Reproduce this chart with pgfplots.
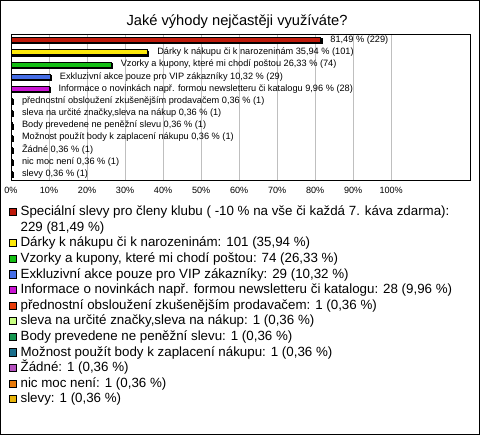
\documentclass[border=0pt]{standalone}
\usepackage{fontspec}
\setmainfont{Liberation Sans}
\usepackage{pgfplots}
\pgfplotsset{compat=1.18}
\definecolor{c1}{RGB}{190,25,10}
\definecolor{c2}{RGB}{252,232,10}
\definecolor{c3}{RGB}{20,190,20}
\definecolor{c4}{RGB}{70,110,230}
\definecolor{c5}{RGB}{200,20,210}
\definecolor{c6}{RGB}{232,62,12}
\definecolor{c7}{RGB}{200,255,130}
\definecolor{c8}{RGB}{20,150,80}
\definecolor{c9}{RGB}{25,110,140}
\definecolor{c10}{RGB}{180,80,190}
\definecolor{c11}{RGB}{232,122,10}
\definecolor{c12}{RGB}{232,180,10}
\begin{document}
\begin{tikzpicture}
\path[use as bounding box] (0,0) rectangle (360pt,-326.25pt);
\draw[line width=0.75pt] (0.375pt,-0.375pt) rectangle (359.625pt,-325.875pt);
\node[font=\fontsize{11}{13}\selectfont, anchor=base] at (177.75pt,-19.5pt) {Jaké výhody nejčastěji využíváte?};
\begin{axis}[
  at={(8.25pt,-25.5pt)}, anchor=north west,
  scale only axis, width=345pt, height=109.5pt,
  xmin=0, xmax=121, ymin=0.5, ymax=12.5, y dir=reverse,
  xtick={0,10,...,100},
  xticklabels={0\%,10\%,20\%,30\%,40\%,50\%,60\%,70\%,80\%,90\%,100\%},
  ytick=\empty,
  xmajorgrids, grid style={black!25, line width=0.6pt},
  major tick length=0pt,
  axis line style={line width=0.75pt},
  xticklabel style={font=\fontsize{6.8}{8}\selectfont, inner sep=0pt, yshift=-5pt},
  bar width=3.75pt,
  every node near coord/.append style={anchor=west, inner sep=0pt, xshift=7pt, font=\fontsize{6.9}{8}\selectfont, text=black},
  myleg/.style={legend image code/.code={\draw[##1, draw=black, line width=0.5pt] (0pt,-2.7pt) rectangle (5.4pt,2.7pt);}},
  legend style={at={(-0.0043,-0.164)}, anchor=north west, draw=none, fill=none, inner sep=0pt, row sep=0pt, column sep=0pt,
    font=\fontsize{10}{12}\selectfont,
    nodes={inner xsep=2.6pt, inner ysep=0.95pt, text height=7.6pt, text depth=2.2pt}},
  legend cell align=left,
]
% shadows
\addplot[xbar, bar shift=0pt, fill=black, draw=black, forget plot, transform canvas={xshift=0.8pt, yshift=-0.8pt}]
 coordinates {(81.49,1) (35.94,2) (26.33,3) (10.32,4) (9.96,5) (0.36,6) (0.36,7) (0.36,8) (0.36,9) (0.36,10) (0.36,11) (0.36,12)};
\addplot[xbar, myleg, bar shift=0pt, fill=c1, draw=black, line width=0.5pt, nodes near coords={81,49 \% (229)}] coordinates {(81.49,1)};
\addlegendentry{Speciální slevy pro členy klubu ( -10 \% na vše či každá 7. káva zdarma):}
\addlegendimage{empty legend}
\addlegendentry{229 (81,49 \%)}
\addplot[xbar, myleg, bar shift=0pt, fill=c2, draw=black, line width=0.5pt, nodes near coords={Dárky k nákupu či k narozeninám 35,94 \% (101)}] coordinates {(35.94,2)};
\addlegendentry{Dárky k nákupu či k narozeninám: 101 (35,94 \%)}
\addplot[xbar, myleg, bar shift=0pt, fill=c3, draw=black, line width=0.5pt, nodes near coords={Vzorky a kupony, které mi chodí poštou 26,33 \% (74)}] coordinates {(26.33,3)};
\addlegendentry{Vzorky a kupony, které mi chodí poštou: 74 (26,33 \%)}
\addplot[xbar, myleg, bar shift=0pt, fill=c4, draw=black, line width=0.5pt, nodes near coords={Exkluzivní akce pouze pro VIP zákazníky 10,32 \% (29)}] coordinates {(10.32,4)};
\addlegendentry{Exkluzivní akce pouze pro VIP zákazníky: 29 (10,32 \%)}
\addplot[xbar, myleg, bar shift=0pt, fill=c5, draw=black, line width=0.5pt, nodes near coords={Informace o novinkách např. formou newsletteru či katalogu 9,96 \% (28)}] coordinates {(9.96,5)};
\addlegendentry{Informace o novinkách např. formou newsletteru či katalogu: 28 (9,96 \%)}
\addplot[xbar, myleg, bar shift=0pt, fill=c6, draw=black, line width=0.5pt, nodes near coords={přednostní obsloužení zkušenějším prodavačem 0,36 \% (1)}] coordinates {(0.36,6)};
\addlegendentry{přednostní obsloužení zkušenějším prodavačem: 1 (0,36 \%)}
\addplot[xbar, myleg, bar shift=0pt, fill=c7, draw=black, line width=0.5pt, nodes near coords={sleva na určité značky,sleva na nákup 0,36 \% (1)}] coordinates {(0.36,7)};
\addlegendentry{sleva na určité značky,sleva na nákup: 1 (0,36 \%)}
\addplot[xbar, myleg, bar shift=0pt, fill=c8, draw=black, line width=0.5pt, nodes near coords={Body prevedene ne peněžní slevu 0,36 \% (1)}] coordinates {(0.36,8)};
\addlegendentry{Body prevedene ne peněžní slevu: 1 (0,36 \%)}
\addplot[xbar, myleg, bar shift=0pt, fill=c9, draw=black, line width=0.5pt, nodes near coords={Možnost použít body k zaplacení nákupu 0,36 \% (1)}] coordinates {(0.36,9)};
\addlegendentry{Možnost použít body k zaplacení nákupu: 1 (0,36 \%)}
\addplot[xbar, myleg, bar shift=0pt, fill=c10, draw=black, line width=0.5pt, nodes near coords={Žádné 0,36 \% (1)}] coordinates {(0.36,10)};
\addlegendentry{Žádné: 1 (0,36 \%)}
\addplot[xbar, myleg, bar shift=0pt, fill=c11, draw=black, line width=0.5pt, nodes near coords={nic moc není 0,36 \% (1)}] coordinates {(0.36,11)};
\addlegendentry{nic moc není: 1 (0,36 \%)}
\addplot[xbar, myleg, bar shift=0pt, fill=c12, draw=black, line width=0.5pt, nodes near coords={slevy 0,36 \% (1)}] coordinates {(0.36,12)};
\addlegendentry{slevy: 1 (0,36 \%)}
\end{axis}
\end{tikzpicture}
\end{document}
